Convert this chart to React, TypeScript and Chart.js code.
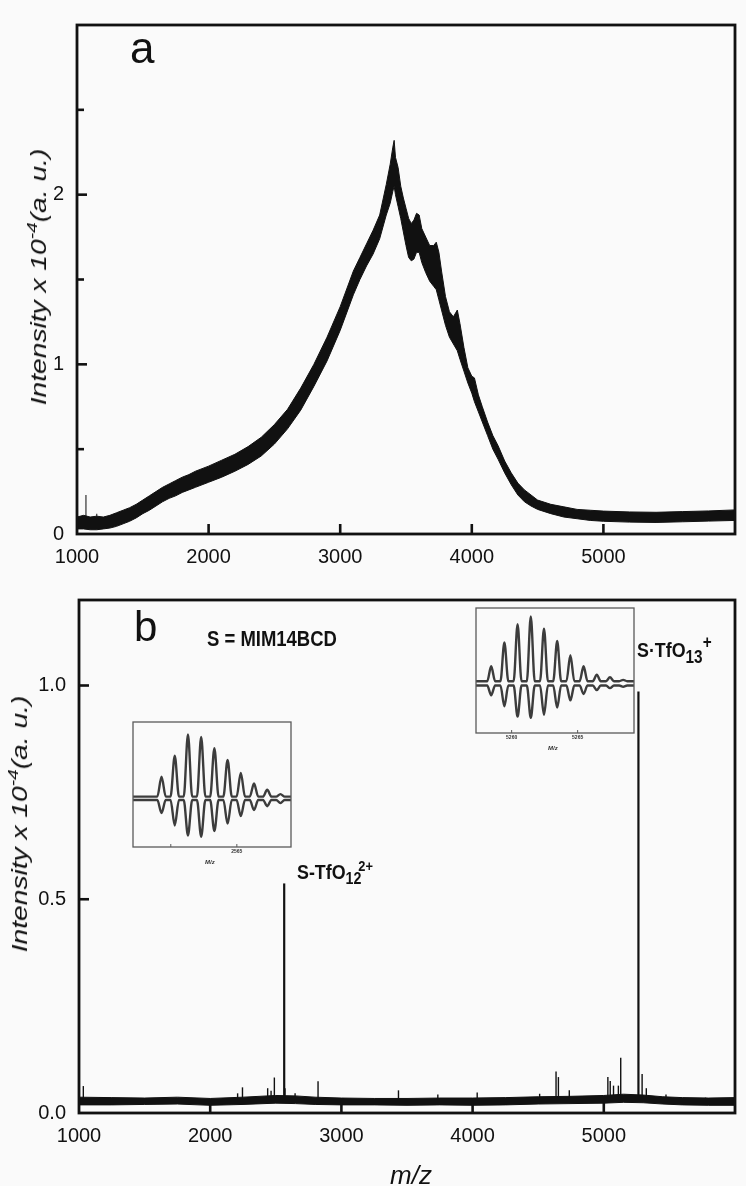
import { useEffect, useRef } from "react";
import { Chart, registerables } from "chart.js";

Chart.register(...registerables);

const INK = "#111111";
const PAPER = "#fafafa";
const FONT = '"Liberation Sans", Arial, Helvetica, sans-serif';

// ---------- panel a: broad ion envelope (lower / upper edge of the noisy trace) ----------
const mzA = [
  1000, 1050, 1100, 1150, 1200, 1250, 1300, 1350, 1400, 1450, 1500, 1550, 1600, 1650, 1700,
  1750, 1800, 1850, 1900, 1950, 2000, 2100, 2200, 2300, 2400, 2500, 2600, 2700, 2800, 2900,
  3000, 3100, 3150, 3200, 3250, 3300, 3350, 3380, 3400, 3410, 3420, 3440, 3460, 3480, 3500,
  3520, 3540, 3560, 3580, 3600, 3620, 3650, 3680, 3710, 3730, 3750, 3770, 3800, 3830, 3860,
  3890, 3910, 3940, 3970, 4000, 4020, 4050, 4080, 4120, 4160, 4200, 4250, 4300, 4350, 4400,
  4450, 4500, 4600, 4700, 4800, 4900, 5000, 5200, 5400, 5600, 5800, 6000,
];
const lowA = [
  0.03, 0.03, 0.025, 0.025, 0.03, 0.035, 0.045, 0.06, 0.075, 0.095, 0.12, 0.14, 0.165, 0.19, 0.21,
  0.225, 0.245, 0.26, 0.275, 0.29, 0.305, 0.335, 0.37, 0.41, 0.46, 0.53, 0.62, 0.73, 0.87, 1.02,
  1.2, 1.41, 1.5, 1.58, 1.65, 1.74, 1.88, 1.95, 2.02, 2.05, 2.0, 1.93, 1.86, 1.78, 1.7,
  1.63, 1.61, 1.62, 1.66, 1.66, 1.6, 1.54, 1.49, 1.46, 1.44, 1.38, 1.32, 1.23, 1.16, 1.12,
  1.08, 1.03, 0.96, 0.89, 0.83, 0.78, 0.72, 0.66, 0.58, 0.5, 0.44, 0.36, 0.29, 0.23, 0.19,
  0.165, 0.145, 0.12, 0.1, 0.09, 0.08, 0.075, 0.07, 0.068, 0.072, 0.076, 0.08,
];
const highA = [
  0.1, 0.11, 0.1, 0.105, 0.1, 0.11, 0.125, 0.14, 0.155, 0.175, 0.2, 0.225, 0.25, 0.275, 0.295,
  0.315, 0.335, 0.35, 0.37, 0.385, 0.4, 0.435, 0.47, 0.515, 0.57, 0.645, 0.735, 0.86, 1.0, 1.16,
  1.34, 1.55, 1.63, 1.71, 1.79, 1.88, 2.06, 2.18, 2.28, 2.32, 2.22, 2.16, 2.05, 1.98, 1.92,
  1.86, 1.83, 1.85, 1.89, 1.88, 1.8, 1.75, 1.7, 1.7, 1.72, 1.66, 1.55, 1.4, 1.31, 1.28,
  1.32, 1.24, 1.1, 0.98, 0.93, 0.92, 0.82, 0.75, 0.66, 0.58, 0.52, 0.43, 0.36, 0.3, 0.26,
  0.23, 0.2, 0.175, 0.16, 0.145, 0.14, 0.135, 0.13, 0.128, 0.132, 0.136, 0.142,
];
const spikeMzA = [1068, 1150];
const spikeIntA = [0.23, 0.12];

// ---------- panel b: baseline band and resolved peaks ----------
const mzB = [
  1000, 1250, 1500, 1750, 2000, 2250, 2500, 2650, 2800, 3000, 3250, 3500, 3750, 4000, 4250,
  4500, 4750, 5000, 5150, 5300, 5450, 5600, 5800, 6000,
];
const lowB = [
  0.019, 0.019, 0.02, 0.021, 0.018, 0.02, 0.023, 0.022, 0.02, 0.019, 0.019, 0.018, 0.019, 0.018,
  0.019, 0.021, 0.022, 0.023, 0.025, 0.024, 0.021, 0.019, 0.018, 0.018,
];
const highB = [
  0.037, 0.036, 0.035, 0.037, 0.034, 0.037, 0.041, 0.04, 0.037, 0.035, 0.034, 0.034, 0.035, 0.035,
  0.036, 0.038, 0.039, 0.041, 0.044, 0.042, 0.038, 0.036, 0.035, 0.036,
];
const peakMzB = [
  1033, 1158, 2209, 2246, 2438, 2464, 2489, 2564, 2570, 2647, 2822, 3435, 3735, 4035, 4511,
  4636, 4654, 4737, 5031, 5049, 5074, 5111, 5129, 5264, 5292, 5324, 5474, 5775,
];
const peakIntB = [
  0.063, 0.036, 0.046, 0.06, 0.058, 0.052, 0.083, 0.537, 0.058, 0.046, 0.074, 0.053, 0.043, 0.048,
  0.045, 0.097, 0.084, 0.053, 0.084, 0.075, 0.064, 0.064, 0.129, 0.986, 0.091, 0.058, 0.043, 0.036,
];
const peakBaseB = 0.028;

const xTickLabels = ["1000", "2000", "3000", "4000", "5000"];
const yTickLabelsA = ["0", "1", "2"];
const yTickLabelsB = ["0.0", "0.5", "1.0"];

// ---------- insets: isotope patterns, measured (up) vs. simulated (down) ----------
const insetLeftMz = [2562.15, 2562.65, 2563.15, 2563.65, 2564.15, 2564.65, 2565.15, 2565.65, 2566.15, 2566.65];
const insetLeftMeasured = [0.32, 0.66, 1.0, 0.96, 0.78, 0.59, 0.38, 0.21, 0.11, 0.04];
const insetLeftSimulated = [0.21, 0.41, 0.57, 0.59, 0.5, 0.38, 0.26, 0.16, 0.1, 0.05];
const insetLeftTicks = [2562.5, 2565];
const insetLeftTickLabels = ["", "2565"];

const insetRightMz = [5258.45, 5259.45, 5260.45, 5261.45, 5262.45, 5263.45, 5264.45, 5265.45, 5266.45, 5267.45, 5268.45];
const insetRightMeasured = [0.23, 0.6, 0.88, 1.0, 0.81, 0.62, 0.4, 0.23, 0.1, 0.06, 0.02];
const insetRightSimulated = [0.15, 0.32, 0.48, 0.5, 0.45, 0.34, 0.23, 0.13, 0.07, 0.04, 0.02];
const insetRightTicks = [5260, 5265];
const insetRightTickLabels = ["5260", "5265"];

type Pt = { x: number; y: number | null };

const zip = (xs: number[], ys: number[]): Pt[] => xs.map((x, i) => ({ x, y: ys[i] }));

// vertical sticks from a base level up to each peak top, separated by gaps
const sticks = (xs: number[], tops: number[], base: number): Pt[] =>
  xs.flatMap((x, i) => [
    { x, y: base },
    { x, y: tops[i] },
    { x, y: null },
  ]);

// isotope profile: rises from the base line to each peak and back
const profile = (xs: number[], h: number[], base: number, half: number, sign: number, x0: number, x1: number): Pt[] => {
  const pts: Pt[] = [{ x: x0, y: base }];
  xs.forEach((x, i) => {
    pts.push({ x: x - half, y: base }, { x, y: base + sign * h[i] }, { x: x + half, y: base });
  });
  pts.push({ x: x1, y: base });
  return pts;
};

// draws the closed frame and inward tick marks
const frameTicks = {
  id: "frameTicks",
  afterDraw(chart: any, _args: any, o: any) {
    const { ctx, chartArea: a } = chart;
    ctx.save();
    ctx.strokeStyle = o.color;
    ctx.lineWidth = o.width;
    ctx.strokeRect(a.left, a.top, a.right - a.left, a.bottom - a.top);
    ctx.lineWidth = o.tickWidth;
    const xs = chart.scales.x;
    for (const t of xs.ticks) {
      const px = xs.getPixelForValue(t.value);
      if (px <= a.left + 2 || px >= a.right - 2) continue;
      ctx.beginPath();
      ctx.moveTo(px, a.bottom);
      ctx.lineTo(px, a.bottom - o.xLen);
      ctx.stroke();
    }
    const ys = chart.scales.y;
    if (o.yLen > 0) {
      for (const t of ys.ticks) {
        const py = ys.getPixelForValue(t.value);
        if (py <= a.top + 2 || py >= a.bottom - 2) continue;
        const len = t.label ? o.yLen : o.yMinorLen;
        ctx.beginPath();
        ctx.moveTo(a.left, py);
        ctx.lineTo(a.left + len, py);
        ctx.stroke();
      }
    }
    ctx.restore();
  },
};

function panelConfig(p: {
  datasets: any[];
  yMax: number;
  yLabels: string[];
  yFmt: (v: number) => string;
  yWidth: number;
  xHeight: number;
  padding: any;
}) {
  return {
    type: "line" as const,
    data: { datasets: p.datasets },
    options: {
      responsive: false,
      animation: false as const,
      events: [],
      layout: { padding: p.padding },
      elements: { point: { radius: 0 }, line: { tension: 0 } },
      plugins: {
        legend: { display: false },
        tooltip: { enabled: false },
        frameTicks: { color: INK, width: 2.8, tickWidth: 2.6, xLen: 10, yLen: 10, yMinorLen: 7 },
      },
      scales: {
        x: {
          type: "linear" as const,
          min: 1000,
          max: 6000,
          afterFit: (s: any) => {
            s.height = p.xHeight;
          },
          grid: { display: false, drawTicks: false },
          border: { display: false },
          ticks: {
            stepSize: 1000,
            autoSkip: false,
            maxRotation: 0,
            padding: 11,
            color: INK,
            font: { family: FONT, size: 20 },
            callback: (v: any) => (xTickLabels.includes(String(v)) ? String(v) : ""),
          },
        },
        y: {
          type: "linear" as const,
          min: 0,
          max: p.yMax,
          afterFit: (s: any) => {
            s.width = p.yWidth;
          },
          grid: { display: false, drawTicks: false },
          border: { display: false },
          ticks: {
            stepSize: 0.5,
            includeBounds: false,
            autoSkip: false,
            padding: 13,
            color: INK,
            font: { family: FONT, size: 20 },
            callback: (v: any) => (p.yLabels.includes(p.yFmt(Number(v))) ? p.yFmt(Number(v)) : ""),
          },
        },
      },
    },
    plugins: [frameTicks],
  };
}

function insetConfig(p: {
  mz: number[];
  measured: number[];
  simulated: number[];
  half: number;
  lowerBase: number;
  xMin: number;
  xMax: number;
  yMin: number;
  yMax: number;
  ticks: number[];
  labels: string[];
  padding: any;
  xHeight: number;
}) {
  const up = profile(p.mz, p.measured, 0, p.half, 1, p.xMin, p.xMax);
  const down = profile(p.mz, p.simulated, p.lowerBase, p.half, -1, p.xMin, p.xMax);
  const line = (data: Pt[], color: string, w: number) => ({
    data,
    borderColor: color,
    borderWidth: w,
    pointRadius: 0,
    fill: false,
    cubicInterpolationMode: "monotone" as const,
  });
  return {
    type: "line" as const,
    data: {
      datasets: [
        line(up, "#3c3c3c", 2.4),
        line(down, "#3c3c3c", 2.4),
        line(up, PAPER, 0.8),
        line(down, PAPER, 0.8),
      ],
    },
    options: {
      responsive: false,
      animation: false as const,
      events: [],
      layout: { padding: p.padding },
      plugins: {
        legend: { display: false },
        tooltip: { enabled: false },
        frameTicks: { color: "#5a5a5a", width: 1.3, tickWidth: 1, xLen: 3, yLen: 0, yMinorLen: 0 },
      },
      scales: {
        x: {
          type: "linear" as const,
          min: p.xMin,
          max: p.xMax,
          afterBuildTicks: (s: any) => {
            s.ticks = p.ticks.map((value) => ({ value }));
          },
          afterFit: (s: any) => {
            s.height = p.xHeight;
          },
          grid: { display: false, drawTicks: false },
          border: { display: false },
          ticks: {
            autoSkip: false,
            maxRotation: 0,
            padding: 2,
            color: "#333",
            font: { family: FONT, size: 5, weight: "bold" as const },
            callback: (v: any) => p.labels[p.ticks.indexOf(Number(v))] ?? "",
          },
        },
        y: { display: false, min: p.yMin, max: p.yMax },
      },
    },
    plugins: [frameTicks],
  };
}

const AxisTitle = ({ cx, cy }: { cx: number; cy: number }) => (
  <div
    style={{
      position: "absolute",
      left: cx,
      top: cy,
      transform: "translate(-50%, -50%) rotate(-90deg) scaleX(1.28)",
      whiteSpace: "nowrap",
      fontStyle: "italic",
      fontSize: 22,
      lineHeight: 1,
    }}
  >
    Intensity x 10
    <sup style={{ fontSize: "0.68em", verticalAlign: "0.6em", lineHeight: 0 }}>-4</sup>
    (a. u.)
  </div>
);

export default function App() {
  const aRef = useRef<HTMLCanvasElement>(null);
  const bRef = useRef<HTMLCanvasElement>(null);
  const leftRef = useRef<HTMLCanvasElement>(null);
  const rightRef = useRef<HTMLCanvasElement>(null);

  useEffect(() => {
    const charts: Chart[] = [];

    charts.push(
      new Chart(
        aRef.current!,
        panelConfig({
          datasets: [
            { data: zip(mzA, lowA), borderColor: INK, borderWidth: 1, pointRadius: 0, fill: false },
            { data: zip(mzA, highA), borderColor: INK, borderWidth: 1, pointRadius: 0, fill: "-1", backgroundColor: INK },
            { data: sticks(spikeMzA, spikeIntA, 0.06), borderColor: "#333", borderWidth: 1.2, pointRadius: 0, fill: false },
          ],
          yMax: 3,
          yLabels: yTickLabelsA,
          yFmt: (v) => String(v),
          yWidth: 77,
          xHeight: 41,
          padding: { top: 1, right: 4, left: 0, bottom: 0 },
        }) as any
      )
    );

    charts.push(
      new Chart(
        bRef.current!,
        panelConfig({
          datasets: [
            { data: zip(mzB, lowB), borderColor: INK, borderWidth: 1, pointRadius: 0, fill: false },
            { data: zip(mzB, highB), borderColor: INK, borderWidth: 1, pointRadius: 0, fill: "-1", backgroundColor: INK },
            {
              data: sticks(peakMzB, peakIntB, peakBaseB),
              borderColor: INK,
              borderWidth: 1.4,
              pointRadius: 0,
              fill: false,
              segment: { borderWidth: (c: any) => (c.p1.parsed.y > 0.3 ? 2.2 : 1.4) },
            },
          ],
          yMax: 1.2,
          yLabels: yTickLabelsB,
          yFmt: (v) => v.toFixed(1),
          yWidth: 79,
          xHeight: 73,
          padding: { top: 6, right: 1, left: 0, bottom: 0 },
        }) as any
      )
    );

    charts.push(
      new Chart(
        leftRef.current!,
        insetConfig({
          mz: insetLeftMz,
          measured: insetLeftMeasured,
          simulated: insetLeftSimulated,
          half: 0.16,
          lowerBase: -0.054,
          xMin: 2561.07,
          xMax: 2567.05,
          yMin: -0.81,
          yMax: 1.2,
          ticks: insetLeftTicks,
          labels: insetLeftTickLabels,
          padding: { left: 13, right: 14, top: 10, bottom: 0 },
          xHeight: 25,
        }) as any
      )
    );

    charts.push(
      new Chart(
        rightRef.current!,
        insetConfig({
          mz: insetRightMz,
          measured: insetRightMeasured,
          simulated: insetRightSimulated,
          half: 0.3,
          lowerBase: -0.067,
          xMin: 5257.3,
          xMax: 5269.27,
          yMin: -0.8,
          yMax: 1.13,
          ticks: insetRightTicks,
          labels: insetRightTickLabels,
          padding: { left: 13, right: 14, top: 10, bottom: 0 },
          xHeight: 25,
        }) as any
      )
    );

    return () => charts.forEach((c) => c.destroy());
  }, []);

  const abs = (extra: any) => ({ position: "absolute" as const, whiteSpace: "nowrap" as const, lineHeight: 1, ...extra });

  return (
    <div
      style={{
        position: "absolute",
        left: 0,
        top: 0,
        width: 746,
        height: 1186,
        overflow: "hidden",
        background: PAPER,
        color: INK,
        fontFamily: FONT,
      }}
    >
      <canvas ref={aRef} width={746} height={575} style={{ position: "absolute", left: 0, top: 0 }} />
      <canvas ref={bRef} width={746} height={611} style={{ position: "absolute", left: 0, top: 575 }} />
      <canvas ref={leftRef} width={185} height={160} style={{ position: "absolute", left: 120, top: 712 }} />
      <canvas ref={rightRef} width={185} height={160} style={{ position: "absolute", left: 463, top: 598 }} />

      <AxisTitle cx={39} cy={277} />
      <AxisTitle cx={19.5} cy={824} />

      <div style={abs({ left: 130, top: 26, fontSize: 44 })}>a</div>
      <div style={abs({ left: 134, top: 606, fontSize: 42 })}>b</div>

      <div style={abs({ left: 207, top: 628, fontSize: 22, fontWeight: "bold", transform: "scaleX(0.84)", transformOrigin: "left center" })}>
        S = MIM14BCD
      </div>

      <div style={abs({ left: 637, top: 639, fontSize: 21, fontWeight: "bold", transform: "scaleX(0.85)", transformOrigin: "left center" })}>
        S·TfO
        <sub style={{ fontSize: "0.86em", verticalAlign: "-0.32em", lineHeight: 0 }}>13</sub>
        <sup style={{ fontSize: "0.86em", verticalAlign: "0.5em", lineHeight: 0 }}>+</sup>
      </div>

      <div style={abs({ left: 297, top: 861, fontSize: 21, fontWeight: "bold", transform: "scaleX(0.85)", transformOrigin: "left center" })}>
        S-TfO
        <sub style={{ fontSize: "0.8em", verticalAlign: "-0.32em", lineHeight: 0 }}>12</sub>
        <sup style={{ fontSize: "0.72em", verticalAlign: "0.55em", lineHeight: 0, marginLeft: "-0.25em" }}>2+</sup>
      </div>

      <div style={abs({ left: 205, top: 859, fontSize: 6, fontWeight: "bold", fontStyle: "italic", color: "#333" })}>M/z</div>
      <div style={abs({ left: 548, top: 745, fontSize: 6, fontWeight: "bold", fontStyle: "italic", color: "#333" })}>M/z</div>

      <div style={abs({ left: 390, top: 1162, fontSize: 26, fontStyle: "italic" })}>m/z</div>
    </div>
  );
}
